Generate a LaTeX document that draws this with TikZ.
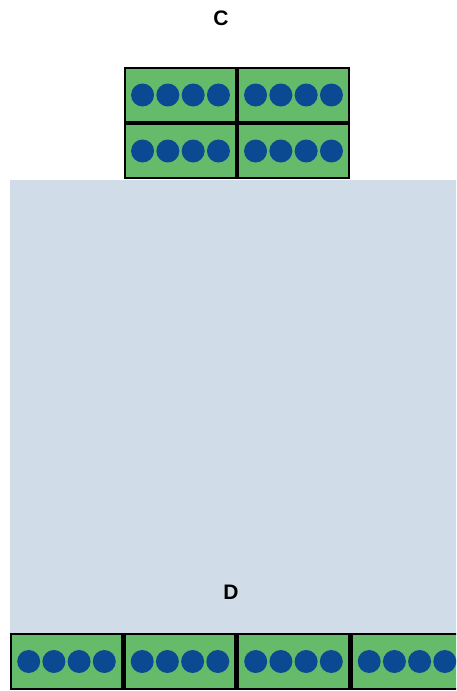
\documentclass[tikz,border=0pt]{standalone}
\usepackage{fontspec}
\setmainfont{Liberation Sans}
\usetikzlibrary{calc}
\definecolor{cellgreen}{HTML}{66BB6A}
\definecolor{dotblue}{HTML}{0B4A92}
\definecolor{bgblue}{HTML}{D0DDE9}
\begin{document}
\begin{tikzpicture}[x=1pt,y=-1pt,
  cellbox/.style={draw=black,line width=2.5pt,fill=cellgreen,minimum width=111pt,minimum height=54pt,inner sep=0pt,outer sep=0pt},
  dot/.style={circle,fill=dotblue,minimum size=23pt,inner sep=0pt},
  lbl/.style={font=\bfseries\fontsize{21}{24}\selectfont,text=black}]
\useasboundingbox (0,0) rectangle (456,691);
\clip (0,0) rectangle (456,691);
\fill[white] (0,0) rectangle (456,691);
\fill[bgblue] (10,180) rectangle (470,633);
\node[lbl] (C) at (221,18.5) {C};
\node[lbl] (D) at (231,592) {D};
% top boxes
\foreach \i/\cx in {1/180.5,2/293.5}{
  \foreach \j/\cy in {1/95,2/151}{
    \node[cellbox] (t\i\j) at (\cx,\cy) {};
    \foreach \k in {1,...,4}{
      \node[dot] (t\i\j d\k) at ($(t\i\j.center)+({(\k-2.5)*25.3},0)$) {};
    }
  }
}
% bottom boxes
\foreach \i/\cx in {1/66.5,2/180,3/293.5,4/407}{
  \node[cellbox,minimum height=55pt] (b\i) at (\cx,661.5) {};
  \foreach \k in {1,...,4}{
    \node[dot] (b\i d\k) at ($(b\i.center)+({(\k-2.5)*25.2},0)$) {};
  }
}
\end{tikzpicture}
\end{document}
